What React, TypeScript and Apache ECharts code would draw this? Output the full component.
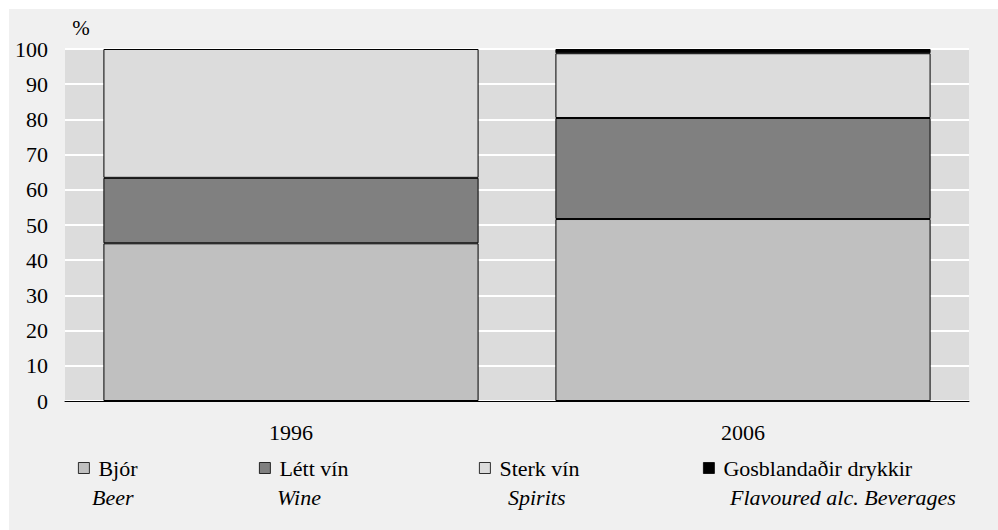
import React, { useEffect, useRef } from "react";
import * as echarts from "echarts";

const categories = ["1996", "2006"];
const beer = [44.8, 51.7];
const wine = [18.6, 28.7];
const spirits = [36.6, 18.4];
const flavoured: (number | string)[] = ["-", 1.2];
const seriesNames = ["Bjór", "Létt vín", "Sterk vín", "Gosblandaðir drykkir"];
const englishNames = ["Beer", "Wine", "Spirits", "Flavoured alc. Beverages"];
const yTicks = { min: 0, max: 100, interval: 10 };

const FONT = "Liberation Serif";

export default function App() {
  const ref = useRef<HTMLDivElement>(null);
  useEffect(() => {
    document.body.style.margin = "0";
    if (!ref.current) return;
    const chart = echarts.init(ref.current, null, { renderer: "svg" });
    const colors = ["#c0c0c0", "#808080", "#dcdcdc", "#000000"];
    const values = [beer, wine, spirits, flavoured];
    const legendLeft = [78, 259, 479, 703];
    const engLeft = [92, 277, 508, 730];
    chart.setOption({
      animation: false,
      textStyle: { fontFamily: FONT },
      graphic: [
        {
          type: "rect",
          z: -10,
          silent: true,
          shape: { x: 9, y: 9, width: 989, height: 521 },
          style: { fill: "#f0f0f0" },
        },
        {
          type: "text",
          x: 81,
          y: 28,
          style: {
            text: "%",
            fontFamily: FONT,
            fontSize: 21,
            fill: "#000",
            align: "center",
            verticalAlign: "middle",
          },
        },
        ...englishNames.map((t, i) => ({
          type: "text",
          x: engLeft[i],
          y: 497,
          style: {
            text: t,
            fontFamily: FONT,
            fontSize: 22,
            fontStyle: "italic",
            fill: "#000",
            align: "left",
            verticalAlign: "middle",
          },
        })),
      ],
      grid: {
        left: 65,
        right: 29,
        top: 49,
        bottom: 129,
        show: true,
        backgroundColor: "#dcdcdc",
        borderWidth: 0,
      },
      legend: seriesNames.map((n, i) => ({
        data: [n],
        left: legendLeft[i],
        top: 457,
        icon: "rect",
        itemWidth: 11,
        itemHeight: 11,
        padding: 0,
        selectedMode: false,
        itemStyle: { borderColor: "#000", borderWidth: 0.8 },
        textStyle: { fontFamily: FONT, fontSize: 22, color: "#000", padding: [0, 0, 0, 4] },
      })),
      xAxis: {
        type: "category",
        data: categories,
        axisLine: { show: true, lineStyle: { color: "#000", width: 1 } },
        axisTick: { show: false },
        axisLabel: { fontFamily: FONT, fontSize: 22, color: "#000", margin: 20 },
      },
      yAxis: {
        type: "value",
        min: yTicks.min,
        max: yTicks.max,
        interval: yTicks.interval,
        axisLine: { show: false },
        axisTick: { show: false },
        axisLabel: { fontFamily: FONT, fontSize: 22, color: "#000", margin: 17 },
        splitLine: { show: true, lineStyle: { color: "#ffffff", width: 2 } },
      },
      series: seriesNames.map((n, i) => ({
        name: n,
        type: "bar",
        stack: "total",
        barWidth: "83%",
        data: values[i],
        itemStyle: { color: colors[i], borderColor: "#000", borderWidth: 1 },
      })),
    });
    return () => chart.dispose();
  }, []);
  return <div ref={ref} style={{ width: 998, height: 530 }} />;
}
